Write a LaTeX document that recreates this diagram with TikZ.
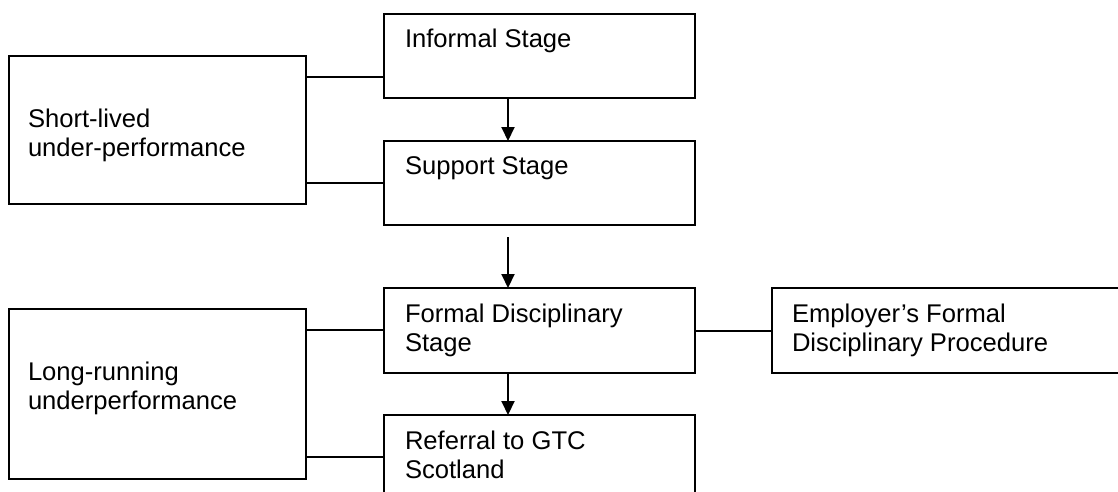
\documentclass[tikz,border=0pt]{standalone}
\usepackage{fontspec}
\setmainfont{Liberation Sans}
\usetikzlibrary{arrows.meta}
\begin{document}
\begin{tikzpicture}[x=1pt,y=-1pt,
  box/.style={draw=black, line width=2pt, rectangle, inner sep=0pt, outer sep=0pt},
  txt/.style={inner sep=0pt, outer sep=0pt, anchor=base west, align=left,
    font=\fontsize{25.6}{29}\selectfont},
  link/.style={draw=black, line width=2pt},
  arr/.style={draw=black, line width=2pt, -{Triangle[length=14pt,width=13pt]}}]
\useasboundingbox (0,0) rectangle (1118,491);
\clip (0,0) rectangle (1118,491);
% boxes
\node[box, minimum width=297pt, minimum height=148pt] (short) at (157.5,130) {};
\node[box, minimum width=297pt, minimum height=170pt] (long) at (157.5,394) {};
\node[box, minimum width=311pt, minimum height=84pt] (informal) at (539.5,56) {};
\node[box, minimum width=311pt, minimum height=84pt] (support) at (539.5,183) {};
\node[box, minimum width=311pt, minimum height=85pt] (formal) at (539.5,330.5) {};
\node[box, minimum width=311pt, minimum height=95pt] (referral) at (539.5,462.5) {};
\node[box, minimum width=370pt, minimum height=85pt] (employer) at (957,330.5) {};
% texts (base anchor = baseline of last line)
\node[txt] (shortT) at (28,156) {Short-lived\\under-performance};
\node[txt] (longT) at (28,409) {Long-running\\underperformance};
\node[txt] (informalT) at (405,47) {Informal Stage};
\node[txt] (supportT) at (405,174) {Support Stage};
\node[txt] (formalT) at (405,351) {Formal Disciplinary\\Stage};
\node[txt] (referralT) at (405,478) {Referral to GTC\\Scotland};
\node[txt] (employerT) at (792,351) {Employer’s Formal\\Disciplinary Procedure};
% connectors
\coordinate (ax) at (508,0);
\coordinate (free) at (508,237);
\draw[link] (short.east |- 0,77) -- (informal.west |- 0,77);
\draw[link] (short.east |- 0,183) -- (support.west |- 0,183);
\draw[link] (long.east |- 0,330) -- (formal.west |- 0,330);
\draw[link] (long.east |- 0,457) -- (referral.west |- 0,457);
\draw[link] (formal.east) -- (employer.west);
\draw[arr] (informal.south -| ax) -- (support.north -| ax);
\draw[arr] (free) -- (formal.north -| ax);
\draw[arr] (formal.south -| ax) -- (referral.north -| ax);
\end{tikzpicture}
\end{document}
